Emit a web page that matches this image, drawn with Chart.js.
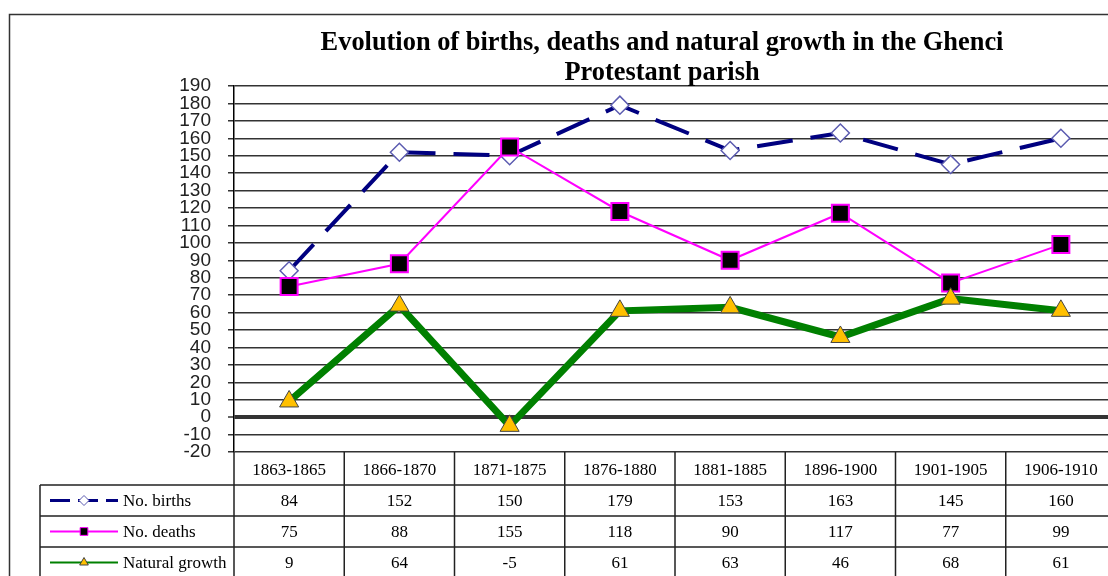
<!DOCTYPE html>
<html><head><meta charset="utf-8">
<script src="https://cdn.jsdelivr.net/npm/chart.js@4/dist/chart.umd.min.js"></script>
<style>html,body{margin:0;padding:0;overflow:hidden;background:#fff}canvas{display:block}</style>
</head><body><canvas id="c" width="1130" height="576"></canvas>
<script>
const categories = ['1863-1865','1866-1870','1871-1875','1876-1880','1881-1885','1896-1900','1901-1905','1906-1910'];
const births = [84, 152, 150, 179, 153, 163, 145, 160];
const deaths = [75, 88, 155, 118, 90, 117, 77, 99];
const growth = [9, 64, -5, 61, 63, 46, 68, 61];
const seriesNames = ['No. births', 'No. deaths', 'Natural growth'];
const titleLines = ['Evolution of births, deaths and natural growth in the Ghenci', 'Protestant parish'];

const seriesData = [births, deaths, growth];

const tablePlugin = {
  id: 'dataTable',
  beforeDraw(chart) {
    const ctx = chart.ctx;
    ctx.save();
    ctx.fillStyle = '#fff';
    ctx.fillRect(0, 0, chart.width, chart.height);
    ctx.strokeStyle = '#333';
    ctx.lineWidth = 1.5;
    ctx.strokeRect(9.5, 14.5, chart.width + 20, chart.height + 20);
    ctx.restore();
  },
  afterDraw(chart) {
    const ctx = chart.ctx;
    const xs = chart.scales.x;
    const area = chart.chartArea;
    const step = xs.getPixelForValue(1) - xs.getPixelForValue(0);
    const top = area.bottom;
    const hdr = top + 33;
    const rowH = 31;
    const legL = 40;
    const bottom = chart.height + 5;
    ctx.save();

    // title
    ctx.fillStyle = '#000';
    ctx.font = 'bold 26.4px "Liberation Serif"';
    ctx.textAlign = 'center';
    ctx.textBaseline = 'middle';
    ctx.fillText(titleLines[0], 662, 43);
    ctx.fillText(titleLines[1], 662, 73);

    ctx.strokeStyle = '#222';
    ctx.lineWidth = 1.5;
    ctx.beginPath();
    for (let i = 0; i < categories.length; i++) {
      const b = xs.getPixelForValue(i) + step / 2;
      ctx.moveTo(b, top); ctx.lineTo(b, bottom);
    }
    ctx.moveTo(area.left, top); ctx.lineTo(area.left, bottom);
    ctx.moveTo(legL, hdr); ctx.lineTo(legL, bottom);
    for (let k = 0; k < 3; k++) {
      const y = hdr + k * rowH;
      ctx.moveTo(legL, y); ctx.lineTo(chart.width, y);
    }
    ctx.stroke();

    // values
    ctx.fillStyle = '#000';
    ctx.font = '17px "Liberation Serif"';
    ctx.textAlign = 'center';
    ctx.textBaseline = 'middle';
    seriesData.forEach((arr, k) => {
      const y = hdr + k * rowH + rowH / 2 + 1;
      arr.forEach((v, i) => ctx.fillText(String(v), xs.getPixelForValue(i), y));
    });

    // legend samples
    chart.data.datasets.forEach((ds, k) => {
      const y = hdr + k * rowH + rowH / 2;
      ctx.save();
      ctx.strokeStyle = ds.borderColor;
      ctx.lineWidth = k === 0 ? 3 : 2;
      if (k === 0) ctx.setLineDash([20, 8]);
      ctx.beginPath();
      ctx.moveTo(50, y); ctx.lineTo(118, y);
      ctx.stroke();
      ctx.restore();
      ctx.save();
      ctx.fillStyle = ds.pointBackgroundColor;
      ctx.strokeStyle = ds.pointBorderColor;
      ctx.lineWidth = 1;
      Chart.helpers.drawPoint(ctx, {
        pointStyle: ds.pointStyle,
        radius: ds.pointStyle === 'rect' ? 5.5 : 5,
        rotation: 0,
        borderWidth: 1
      }, 84, y);
      ctx.restore();
      ctx.fillStyle = '#000';
      ctx.font = '17px "Liberation Serif"';
      ctx.textAlign = 'left';
      ctx.textBaseline = 'middle';
      ctx.fillText(seriesNames[k], 123, y + 1);
    });
    ctx.restore();
  }
};

new Chart(document.getElementById('c'), {
  type: 'line',
  data: {
    labels: categories,
    datasets: [
      { label: seriesNames[0], data: births, order: 2,
        borderColor: '#000080', borderWidth: 4, borderDash: [36, 18],
        pointStyle: 'rectRot', pointRadius: 9, pointBackgroundColor: '#fff',
        pointBorderColor: '#5b5bb0', pointBorderWidth: 1.5, tension: 0 },
      { label: seriesNames[1], data: deaths, order: 1,
        borderColor: '#ff00ff', borderWidth: 2,
        pointStyle: 'rect', pointRadius: 12, pointBackgroundColor: '#000',
        pointBorderColor: '#ff00ff', pointBorderWidth: 2, tension: 0 },
      { label: seriesNames[2], data: growth, order: 0,
        borderColor: '#008000', borderWidth: 7,
        pointStyle: 'triangle', pointRadius: 11, pointBackgroundColor: '#ffc000',
        pointBorderColor: '#444', pointBorderWidth: 1, tension: 0 }
    ]
  },
  options: {
    responsive: false,
    animation: false,
    layout: { padding: { left: 150, right: 9, top: 86, bottom: 0 } },
    plugins: {
      legend: { display: false },
      tooltip: { enabled: false },
      title: { display: false }
    },
    scales: {
      x: {
        offset: true,
        grid: { display: false, drawTicks: false },
        border: { display: false },
        ticks: { font: { family: 'Liberation Serif', size: 17 }, color: '#000', padding: 8, maxRotation: 0, autoSkip: false },
        afterFit(s) { s.height = 124; }
      },
      y: {
        min: -20, max: 190,
        ticks: { stepSize: 10, autoSkip: false, maxTicksLimit: 100,
          font: { family: 'Liberation Sans', size: 19 }, color: '#222', padding: 17 },
        grid: { color: '#333', lineWidth: c => (c.tick && c.tick.value === 0) ? 4 : 1.5,
          tickLength: 6, tickWidth: 1.5, tickColor: '#333' },
        border: { color: '#000', width: 1.5 },
        afterFit(s) { s.width = 84; }
      }
    }
  },
  plugins: [tablePlugin]
});
</script>
</body></html>
